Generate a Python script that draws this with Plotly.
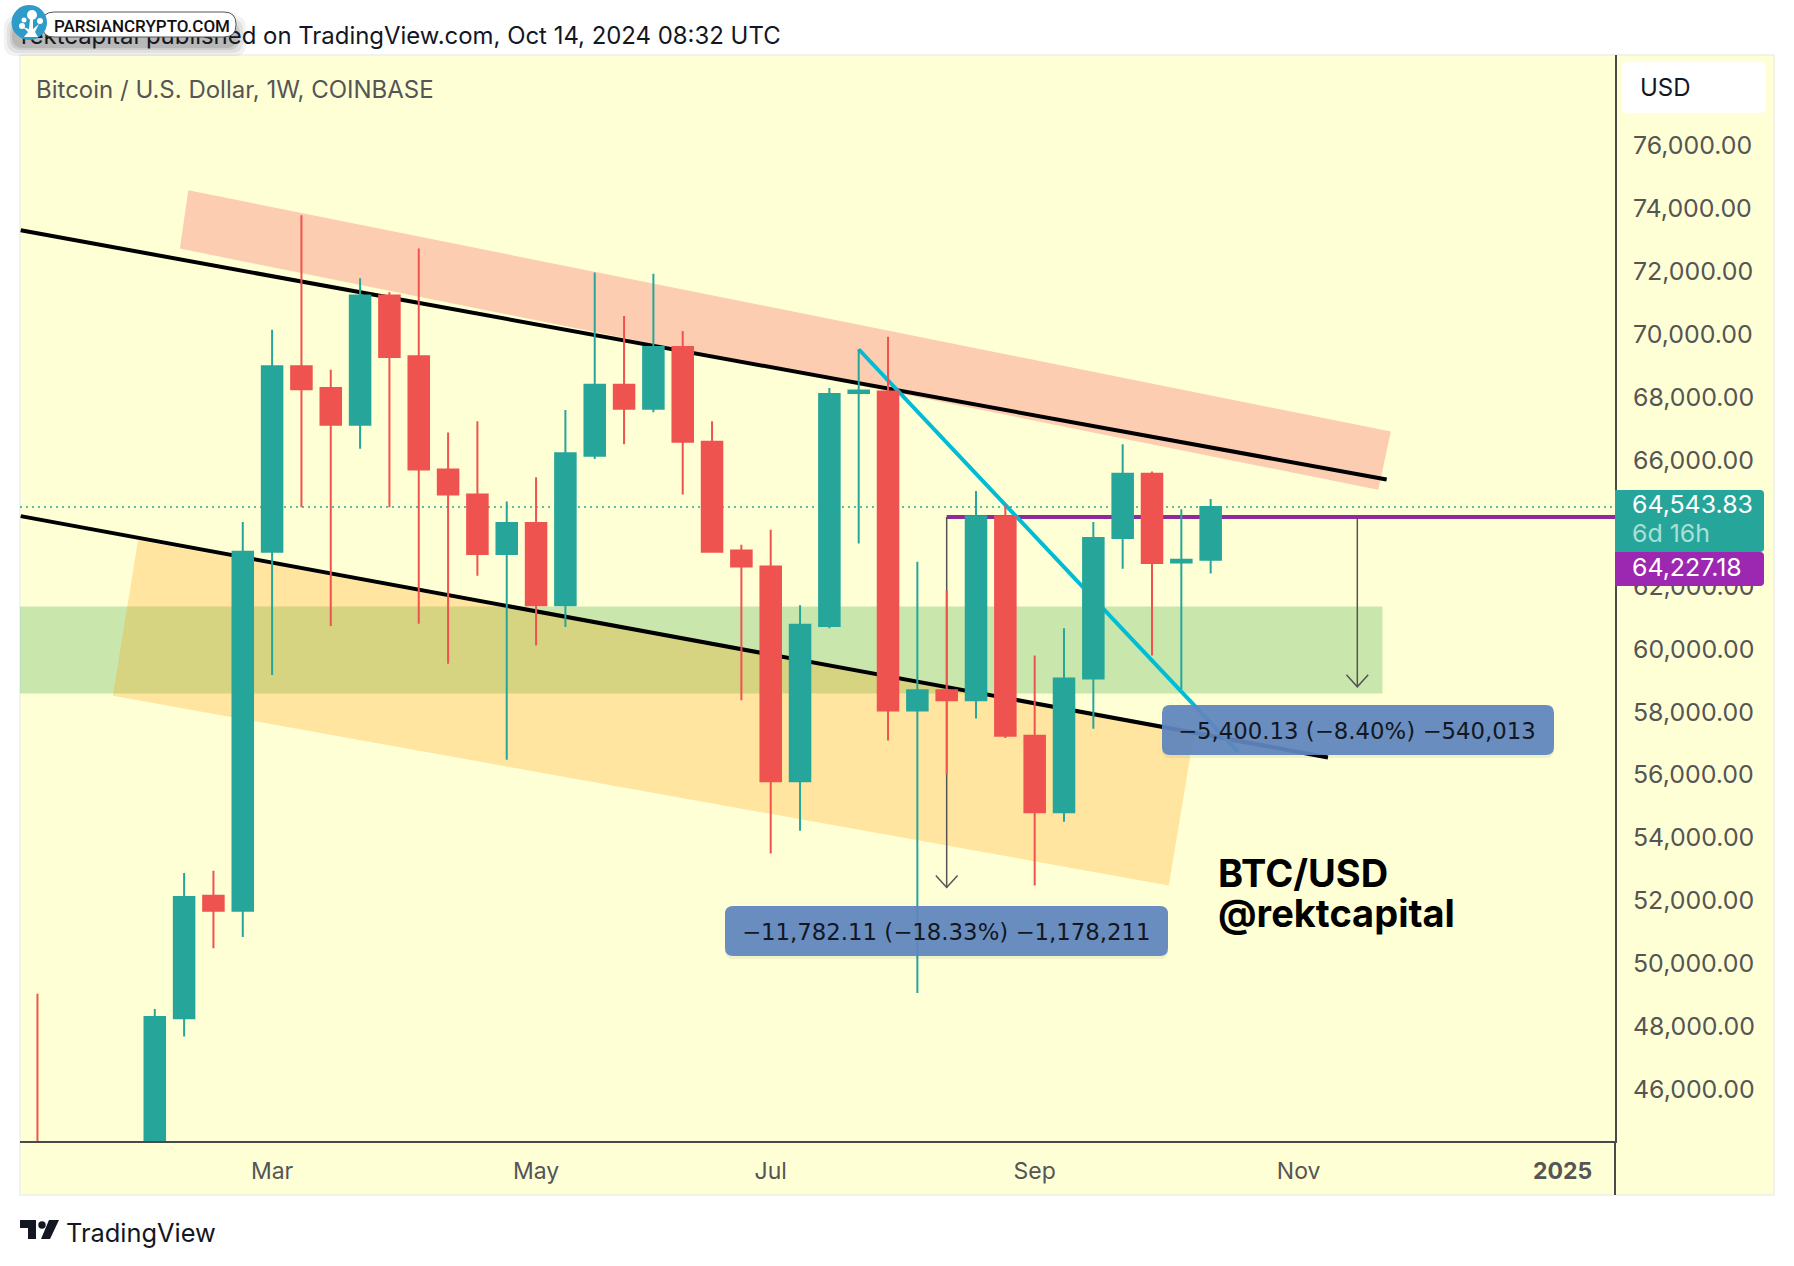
import plotly.graph_objects as go

# weekly BTC/USD candles
dates = ["2024-01-08", "2024-01-15", "2024-01-22", "2024-01-29", "2024-02-05", "2024-02-12", "2024-02-19",
         "2024-02-26", "2024-03-04", "2024-03-11", "2024-03-18", "2024-03-25", "2024-04-01", "2024-04-08",
         "2024-04-15", "2024-04-22", "2024-04-29", "2024-05-06", "2024-05-13", "2024-05-20", "2024-05-27",
         "2024-06-03", "2024-06-10", "2024-06-17", "2024-06-24", "2024-07-01", "2024-07-08", "2024-07-15",
         "2024-07-22", "2024-07-29", "2024-08-05", "2024-08-12", "2024-08-19", "2024-08-26", "2024-09-02",
         "2024-09-09", "2024-09-16", "2024-09-23", "2024-09-30", "2024-10-07", "2024-10-14"]
opens = [43950, 41700, 41600, 42000, 42600, 48290, 52180,
         51710, 63125, 69020, 68325, 67160, 71270, 69340,
         65740, 64940, 63050, 64035, 61420, 66170, 68435,
         67670, 69630, 66620, 63160, 62650, 55820, 60760,
         68170, 68220, 58070, 58720, 58400, 64250, 57270,
         54840, 59090, 63560, 65600, 62780, 62870]
highs = [49070, 43000, 42300, 43900, 48580, 52910, 52980,
         64070, 70180, 73820, 68910, 71820, 71370, 72760,
         66910, 67270, 64720, 65490, 67630, 72000, 70620,
         71960, 70140, 67270, 63340, 63820, 61420, 68325,
         69560, 69960, 62800, 61890, 65050, 64620, 59820,
         60690, 64070, 66540, 65670, 64470, 64800]
lows = [41500, 40600, 38500, 41900, 42300, 47710, 50510,
        50870, 59200, 64540, 60760, 66400, 64540, 60830,
        59560, 62360, 56510, 60140, 60730, 66070, 66540,
        67560, 64940, 63090, 58400, 53530, 54250, 60690,
        63380, 57120, 49090, 56040, 57820, 57200, 52510,
        54540, 57490, 62580, 59820, 58760, 62430]
closes = [41700, 41600, 42000, 42600, 48330, 52145, 51710,
          63125, 69020, 68290, 67160, 71270, 69310, 65740,
          64940, 63050, 64035, 61420, 66250, 68435, 67670,
          69630, 66620, 63125, 62650, 55820, 60800, 68140,
          68250, 58070, 58720, 58400, 64250, 57270, 54840,
          59090, 63560, 65600, 62760, 62870, 64543.83]

# axis ticks
price_ticks = [46000, 48000, 50000, 52000, 54000, 56000, 58000, 60000, 62000, 64000,
               66000, 68000, 70000, 72000, 74000, 76000]
price_tick_text = ["46,000.00", "48,000.00", "50,000.00", "52,000.00", "54,000.00", "56,000.00", "58,000.00",
                   "60,000.00", "62,000.00", "", "66,000.00", "68,000.00", "70,000.00", "72,000.00",
                   "74,000.00", "76,000.00"]
month_ticks = ["2024-03-04", "2024-05-06", "2024-07-01", "2024-09-02", "2024-11-04", "2025-01-06"]
month_text = ["Mar", "May", "Jul", "Sep", "Nov", "<b>2025</b>"]

# drawings on the chart
x_range = ["2024-01-03 20:00", "2025-01-18 12:00"]
y_range = [44385, 78916]
last_price = 64543.83
level_price = 64227.18
upper_line_x = ["2024-01-04", "2024-11-25"]
upper_line_y = [73343, 65416]
lower_line_x = ["2024-01-04", "2024-11-11"]
lower_line_y = [64253, 56580]
cyan_line_x = ["2024-07-22", "2024-10-20 12:00"]
cyan_line_y = [69560, 56763]
pink_x = ["2024-02-13", "2024-11-26", "2024-11-23", "2024-02-11"]
pink_y = [74616, 66944, 65090, 72761]
orange_x = ["2024-02-01", "2024-10-10", "2024-10-04", "2024-01-26"]
orange_y = [63490, 57310, 52510, 58545]
green_x = ["2024-01-03 20:00", "2024-11-24", "2024-11-24", "2024-01-03 20:00"]
green_y = [61380, 61380, 58617, 58617]
level_x = ["2024-08-12", "2025-01-18 12:00"]
drop_left_x = ["2024-08-12", "2024-08-12"]
drop_left_y = [64227.18, 52445.07]
head_left_x = ["2024-08-09 09:36", "2024-08-12", "2024-08-14 14:24"]
head_left_y = [52825, 52445.07, 52825]
drop_right_x = ["2024-11-18", "2024-11-18"]
drop_right_y = [64227.18, 58827.05]
head_right_x = ["2024-11-15 09:36", "2024-11-18", "2024-11-20 14:24"]
head_right_y = [59207, 58827.05, 59207]

TEAL = "#26a69a"
RED = "#ef5350"
BG = "#ffffd5"
GREY = "#555555"
FONT = "Inter"
LABEL_FONT = "DejaVu Sans"

W, H = 1794, 1266
ML, MT = 20, 55
PW, PH = 1595, 1086


def px(x):
    return (x - ML) / PW


def py(y):
    return 1 - (y - MT) / PH


def rounded(x0, y0, x1, y1, r, right_only=False):
    # rounded box as an svg path in paper coordinates
    rl = 0 if right_only else r
    pts = [("M", x0 + rl, y0), ("L", x1 - r, y0), ("Q", x1, y0, x1, y0 + r), ("L", x1, y1 - r),
           ("Q", x1, y1, x1 - r, y1), ("L", x0 + rl, y1), ("Q", x0, y1, x0, y1 - rl), ("L", x0, y0 + rl),
           ("Q", x0, y0, x0 + rl, y0)]
    out = ""
    for p in pts:
        out += p[0]
        for i in range(1, len(p), 2):
            out += f"{px(p[i]):.5f},{py(p[i + 1]):.5f} "
    return out + "Z"


def poly(points):
    return "M" + " L".join(f"{px(a):.5f},{py(b):.5f}" for a, b in points) + " Z"


def box_shape(path, fill, layer="above", line=None, **kw):
    return dict(type="path", xref="paper", yref="paper", path=path, fillcolor=fill, layer=layer,
                line=line or dict(width=0), **kw)


def text(x, y, s, size, color, anchor="left", family=FONT):
    fig.add_annotation(xref="paper", yref="paper", x=px(x), y=py(y), text=s, showarrow=False,
                       xanchor=anchor, yanchor="middle", align="left",
                       font=dict(family=family, size=size, color=color))


fig = go.Figure()


def area(xs, ys, color):
    fig.add_trace(go.Scatter(x=xs, y=ys, mode="lines", fill="toself", fillcolor=color,
                             line=dict(width=0), hoverinfo="skip", showlegend=False))


def line(xs, ys, color, width, dash="solid"):
    fig.add_trace(go.Scatter(x=xs, y=ys, mode="lines", line=dict(color=color, width=width, dash=dash),
                             hoverinfo="skip", showlegend=False))


area(pink_x, pink_y, "rgba(242,54,69,0.25)")
area(green_x, green_y, "rgba(76,175,80,0.3)")
area(orange_x, orange_y, "rgba(255,152,0,0.25)")
line(upper_line_x, upper_line_y, "#000000", 4)
line(lower_line_x, lower_line_y, "#000000", 4)
line(x_range, [last_price, last_price], TEAL, 1.5, dash="2px,4px")
line(level_x, [level_price, level_price], "#8e2a9c", 4)
line(cyan_line_x, cyan_line_y, "#00bcd4", 4)
line(drop_left_x, drop_left_y, GREY, 1.5)
line(head_left_x, head_left_y, GREY, 1.5)
line(drop_right_x, drop_right_y, GREY, 1.5)
line(head_right_x, head_right_y, GREY, 1.5)

# candles sit on overlaying axes so they stay above the drawings
fig.add_trace(go.Candlestick(x=dates, open=opens, high=highs, low=lows, close=closes,
                             xaxis="x2", yaxis="y2", whiskerwidth=0, showlegend=False,
                             increasing=dict(line=dict(color=TEAL, width=2), fillcolor=TEAL),
                             decreasing=dict(line=dict(color=RED, width=2), fillcolor=RED)))

shapes = [
    # chart panel
    dict(type="rect", xref="paper", yref="paper", x0=px(20), x1=px(1774), y0=py(55), y1=py(1195),
         fillcolor=BG, layer="below", line=dict(color="#eeeeea", width=1.5)),
    # pane/time scale separator below the axis
    dict(type="line", xref="paper", yref="paper", x0=px(1615), x1=px(1615), y0=py(1141), y1=py(1195),
         line=dict(color="#4a4a4a", width=2), layer="above"),
    # measure labels
    box_shape(rounded(725, 909, 1168, 959, 8), "rgba(0,0,0,0.05)"),
    box_shape(rounded(725, 906, 1168, 956, 8), "rgba(96,134,190,0.94)"),
    box_shape(rounded(1162, 708, 1554, 758, 8), "rgba(0,0,0,0.05)"),
    box_shape(rounded(1162, 705, 1554, 755, 8), "rgba(96,134,190,0.94)"),
    # price tags
    box_shape(rounded(1615, 490, 1764, 552, 4, right_only=True), "#26a69a"),
    box_shape(rounded(1615, 552, 1764, 586, 4, right_only=True), "#9c27b0"),
    # currency button
    box_shape(rounded(1622, 62, 1766, 113, 6), "#ffffff"),
    # TradingView mark
    box_shape(poly([(20, 1220), (36, 1220), (36, 1239), (28, 1239), (28, 1228), (20, 1228)]), "#131722"),
    box_shape(poly([(49, 1220), (59, 1220), (50, 1239), (41, 1239)]), "#131722"),
    dict(type="circle", xref="paper", yref="paper", x0=px(38.3), x1=px(45.7), y0=py(1221.3), y1=py(1228.7),
         fillcolor="#131722", line=dict(width=0), layer="above"),
    # publish line, as a shape label so the badge below can cover it
    dict(type="rect", xref="paper", yref="paper", x0=px(18), x1=px(800), y0=py(20), y1=py(50),
         fillcolor="rgba(0,0,0,0)", line=dict(width=0), layer="above",
         label=dict(text="rektcapital published on TradingView.com, Oct 14, 2024 08:32 UTC",
                    textposition="middle left", padding=0,
                    font=dict(family=FONT, size=23.93, color="#131722"))),
]
# soft shadow of the badge
for grow, alpha in [(10, 0.06), (7, 0.08), (4, 0.10), (2, 0.12)]:
    shapes.append(box_shape(rounded(14 - grow, 18 - grow + 8, 236 + grow, 38 + grow + 8, 12), f"rgba(30,30,30,{alpha})"))
shapes += [
    box_shape(rounded(42, 12, 236, 37, 12), "#ffffff", line=dict(color="#555555", width=1),
              label=dict(text="PARSIANCRYPTO.COM", textposition="middle right", padding=3,
                         font=dict(family="Roboto", size=17, weight=500, color="#111111"))),
    dict(type="circle", xref="paper", yref="paper", x0=px(11.5), x1=px(47), y0=py(5), y1=py(40),
         fillcolor="#2f9bc9", line=dict(width=0), layer="above"),
    box_shape(poly([(24, 37), (28, 32), (23, 27), (29, 29), (30, 19), (33, 19), (33, 29), (39, 24), (35, 32), (38, 37)]),
              "#ffffff"),
]
for cx, cy, r in [(32, 15, 5), (24, 20, 2.5), (22, 26, 3), (40, 21, 3)]:
    shapes.append(dict(type="circle", xref="paper", yref="paper", x0=px(cx - r), x1=px(cx + r),
                       y0=py(cy + r), y1=py(cy - r), fillcolor="#ffffff", line=dict(width=0), layer="above"))

fig.update_layout(
    width=W, height=H,
    margin=dict(l=ML, t=MT, r=W - ML - PW, b=H - MT - PH, pad=0),
    paper_bgcolor="#ffffff", plot_bgcolor="rgba(0,0,0,0)",
    boxgap=0.3, boxgroupgap=0,
    showlegend=False,
    shapes=shapes,
    xaxis=dict(type="date", range=x_range, showgrid=False, zeroline=False, tickmode="array",
               tickvals=month_ticks, ticktext=month_text, ticks="", showline=True, linecolor="#4a4a4a",
               linewidth=2, tickfont=dict(family=FONT, size=23, color=GREY), ticklabelstandoff=8,
               anchor="y"),
    yaxis=dict(range=y_range, side="right", showgrid=False, zeroline=False, tickmode="array",
               tickvals=price_ticks, ticktext=price_tick_text, ticks="", showline=True, linecolor="#4a4a4a",
               linewidth=2, tickfont=dict(family=FONT, size=24.9, color=GREY), ticklabelstandoff=11,
               ticklabelshift=-1, anchor="x"),
    xaxis2=dict(type="date", range=x_range, overlaying="x", visible=False, rangeslider=dict(visible=False)),
    yaxis2=dict(range=y_range, overlaying="y", visible=False),
)

text(34, 90, "Bitcoin / U.S. Dollar, 1W, COINBASE", 24, GREY)
text(1638, 88, "USD", 24, "#131722")
text(1630, 504, "64,543.83", 24.9, "#ffffff")
text(1630, 533, "6d 16h", 24.9, "#a8e0d8")
text(1630, 567, "64,227.18", 24.9, "#ffffff")
text(946, 932, "−11,782.11 (−18.33%) −1,178,211", 22.8, "#131722", anchor="center", family=LABEL_FONT)
text(1357, 731, "−5,400.13 (−8.40%) −540,013", 22.8, "#131722", anchor="center", family=LABEL_FONT)
text(1216, 873, "<b>BTC/USD</b>", 38, "#000000")
text(1216, 913, "<b>@rektcapital</b>", 38, "#000000")
text(64, 1232, "TradingView", 25.4, "#131722")

fig.write_html("out.html", config={"displayModeBar": False},
               post_script="document.body.style.margin='0';document.body.style.overflow='hidden';")
